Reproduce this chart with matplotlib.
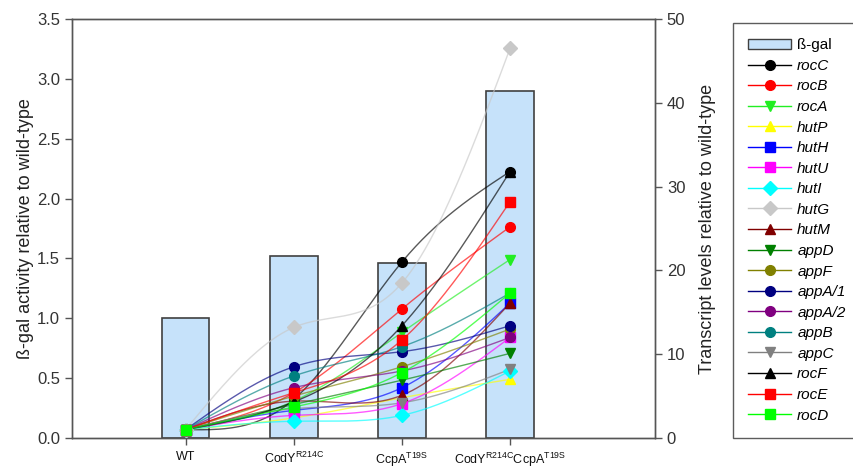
import numpy as np
import matplotlib
matplotlib.use("Agg")
import matplotlib.pyplot as plt
from matplotlib.patches import Patch
from matplotlib.lines import Line2D

plt.rcParams['font.family'] = ['Liberation Sans', 'DejaVu Sans']
plt.rcParams['mathtext.default'] = 'regular'

categories = ['WT', r'CodY$^{R214C}$', r'CcpA$^{T19S}$', r'CodY$^{R214C}$CcpA$^{T19S}$']
bgal = [1.0, 1.52, 1.46, 2.90]

genes = ['rocC', 'rocB', 'rocA', 'hutP', 'hutH', 'hutU', 'hutI', 'hutG', 'hutM',
         'appD', 'appF', 'appA/1', 'appA/2', 'appB', 'appC', 'rocF', 'rocE', 'rocD']
rocC = [1.0, 4.6, 21.0, 31.8]
rocB = [1.0, 5.4, 15.4, 25.2]
rocA = [1.0, 4.4, 12.6, 21.3]
hutP = [1.0, 2.4, 4.8, 7.0]
hutH = [1.0, 3.3, 6.0, 16.1]
hutU = [1.0, 2.7, 4.1, 12.0]
hutI = [1.0, 2.0, 2.7, 8.0]
hutG = [1.0, 13.2, 18.5, 46.5]
hutM = [1.0, 4.4, 5.1, 16.1]
appD = [1.0, 4.0, 6.9, 10.1]
appF = [1.0, 5.0, 8.5, 13.0]
appA1 = [1.0, 8.5, 10.3, 13.4]
appA2 = [1.0, 6.0, 8.0, 12.0]
appB = [1.0, 7.4, 10.9, 17.3]
appC = [1.0, 3.5, 4.2, 8.2]
rocF = [1.0, 4.3, 13.4, 31.8]
rocE = [1.0, 5.4, 11.7, 28.2]
rocD = [1.0, 3.7, 7.8, 17.3]
series = [rocC, rocB, rocA, hutP, hutH, hutU, hutI, hutG, hutM,
          appD, appF, appA1, appA2, appB, appC, rocF, rocE, rocD]

colors = ['#000000', '#ff0000', '#22ee22', '#ffff00', '#0000ff', '#ff00ff', '#00ffff',
          '#c8c8c8', '#800000', '#008000', '#808000', '#000080', '#800080', '#008080',
          '#808080', '#000000', '#ff0000', '#00ff00']
markers = ['o', 'o', 'v', '^', 's', 's', 'D', 'D', '^', 'v', 'o', 'o', 'o', 'o',
           'v', '^', 's', 's']


def natural_spline(x, y, n=200):
    x = np.asarray(x, float)
    y = np.asarray(y, float)
    k = len(x)
    h = np.diff(x)
    A = np.zeros((k, k))
    b = np.zeros(k)
    A[0, 0] = 1
    A[-1, -1] = 1
    for i in range(1, k - 1):
        A[i, i - 1] = h[i - 1]
        A[i, i] = 2 * (h[i - 1] + h[i])
        A[i, i + 1] = h[i]
        b[i] = 6 * ((y[i + 1] - y[i]) / h[i] - (y[i] - y[i - 1]) / h[i - 1])
    M = np.linalg.solve(A, b)
    xs = np.linspace(x[0], x[-1], n)
    idx = np.clip(np.searchsorted(x, xs) - 1, 0, k - 2)
    x0, x1 = x[idx], x[idx + 1]
    hh = x1 - x0
    t0 = x1 - xs
    t1 = xs - x0
    ys = (M[idx] * t0 ** 3 / (6 * hh) + M[idx + 1] * t1 ** 3 / (6 * hh)
          + (y[idx] / hh - M[idx] * hh / 6) * t0 + (y[idx + 1] / hh - M[idx + 1] * hh / 6) * t1)
    return xs, ys


fig = plt.figure(figsize=(8.54, 4.68), dpi=100)
ax1 = fig.add_axes([0.0843, 0.0641, 0.6827, 0.8953])
ax2 = ax1.twinx()

x = np.arange(len(categories))
spine_c = '#555555'
ax1.bar(x, bgal, width=0.44, color='#c6e2fa', edgecolor='#404040', linewidth=1.2, zorder=1)
ax1.set_xlim(-1.05, 4.34)
ax1.set_ylim(0, 3.5)
ax1.set_yticks(np.arange(0, 3.51, 0.5))
ax1.set_yticklabels([f'{v:.1f}' for v in np.arange(0, 3.51, 0.5)])
ax1.set_xticks(x)
ax1.set_xticklabels(categories, fontsize=9)
ax1.set_ylabel('ß-gal activity relative to wild-type', fontsize=13, color='#222222', labelpad=2)
ax1.tick_params(axis='y', labelsize=12, colors='#333333', length=5, width=1, color=spine_c)
ax1.tick_params(axis='x', length=5, width=1, color=spine_c, pad=4, labelcolor='#111111')

handles = [Patch(facecolor='#c6e2fa', edgecolor='#404040', linewidth=1.0, label='ß-gal')]
for s, c, m, g in zip(series, colors, markers, genes):
    xs, ys = natural_spline(x, s)
    ax2.plot(xs, ys, color=c, lw=1.0, alpha=0.65, zorder=2)
    ax2.plot(x, s, linestyle='none', marker=m, color=c, markersize=7, zorder=3)
    handles.append(Line2D([0], [0], color=c, lw=1.0, marker=m, markersize=7, label=g))
ax2.set_ylim(0, 50)
ax2.set_yticks(range(0, 51, 10))
ax2.set_ylabel('Transcript levels relative to wild-type', fontsize=13, color='#222222', labelpad=10)
ax2.tick_params(axis='y', labelsize=12, colors='#333333', length=5, width=1, color=spine_c)

for a in (ax1, ax2):
    for sp in a.spines.values():
        sp.set_color(spine_c)
        sp.set_linewidth(1.0)

leg = fig.legend(handles=handles, loc='upper left', bbox_to_anchor=(733 / 854, 1 - 23 / 468),
                 frameon=True, fancybox=False, edgecolor='#333333',
                 prop={'style': 'italic', 'size': 11}, handlelength=2.8, handletextpad=0.4,
                 labelspacing=0.43, borderpad=1.0, borderaxespad=0)
leg.get_frame().set_linewidth(1.0)
leg.get_texts()[0].set_fontstyle('normal')

fig.savefig('out.png', dpi=100)
